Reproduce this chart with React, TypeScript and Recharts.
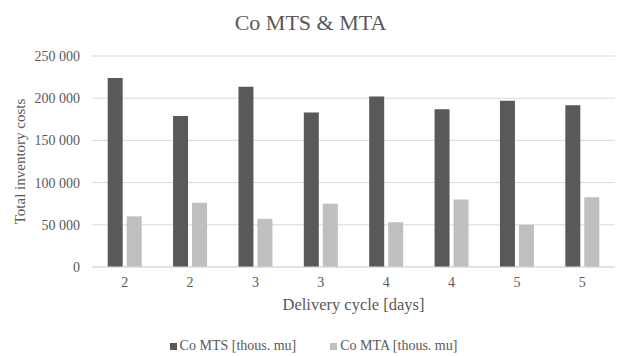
import {
  Bar,
  BarChart,
  CartesianGrid,
  Legend,
  XAxis,
  YAxis,
} from "recharts";

const cycles = ["2", "2", "3", "3", "4", "4", "5", "5"];
const coMts = [224000, 179000, 213500, 183000, 202000, 187000, 197000, 191500];
const coMta = [60000, 76000, 57000, 75000, 53000, 80000, 50000, 82500];
const yTicks = [0, 50000, 100000, 150000, 200000, 250000];

const FONT = "'Liberation Serif', 'Times New Roman', serif";
const TEXT = "#595959";

const SERIES = [
  { key: "mts", label: "Co MTS [thous. mu]", color: "#595959" },
  { key: "mta", label: "Co MTA [thous. mu]", color: "#bfbfbf" },
];

const data = cycles.map((c, i) => ({ cycle: c, mts: coMts[i], mta: coMta[i] }));

// 250000 -> "250 000"
const fmt = (v: number) => String(v).replace(/\B(?=(\d{3})+(?!\d))/g, " ");

function LegendRow() {
  return (
    <div style={{ display: "flex", justifyContent: "center", gap: 34, fontSize: 14, fontFamily: FONT, color: TEXT }}>
      {SERIES.map((s) => (
        <span key={s.key} style={{ display: "inline-flex", alignItems: "center" }}>
          <span style={{ display: "inline-block", width: 7, height: 7, background: s.color, marginRight: 3 }} />
          {s.label}
        </span>
      ))}
    </div>
  );
}

export default function App() {
  return (
    <div style={{ position: "absolute", left: 0, top: 0, width: 617, height: 356, background: "#fff", fontFamily: FONT }}>
      <div
        style={{
          position: "absolute",
          top: 10,
          left: 2,
          width: "100%",
          textAlign: "center",
          fontSize: 22,
          color: TEXT,
          lineHeight: "26px",
        }}
      >
        Co MTS &amp; MTA
      </div>
      <BarChart
        width={617}
        height={356}
        data={data}
        margin={{ top: 56, right: 2, left: 12, bottom: 43 }}
        barGap={4}
        barCategoryGap="24%"
      >
        <CartesianGrid stroke="#d9d9d9" vertical={false} />
        <XAxis
          dataKey="cycle"
          tickLine={false}
          axisLine={{ stroke: "#d9d9d9" }}
          tick={{ fontSize: 14, fill: TEXT, fontFamily: FONT }}
          tickMargin={4}
          label={{
            value: "Delivery cycle [days]",
            position: "bottom",
            offset: 1,
            style: { fontSize: 16.5, fill: TEXT, fontFamily: FONT },
          }}
        />
        <YAxis
          width={80}
          domain={[0, 250000]}
          ticks={yTicks}
          tickFormatter={fmt}
          tickLine={false}
          axisLine={false}
          tickSize={0}
          tickMargin={12}
          tick={{ fontSize: 14, fill: TEXT, fontFamily: FONT }}
          label={{
            value: "Total inventory costs",
            angle: -90,
            position: "insideLeft",
            offset: 8,
            style: { textAnchor: "middle", fontSize: 15, fill: TEXT, fontFamily: FONT },
          }}
        />
        <Legend verticalAlign="bottom" content={<LegendRow />} wrapperStyle={{ bottom: 2 }} />
        {SERIES.map((s) => (
          <Bar key={s.key} dataKey={s.key} name={s.label} fill={s.color} isAnimationActive={false} />
        ))}
      </BarChart>
    </div>
  );
}
